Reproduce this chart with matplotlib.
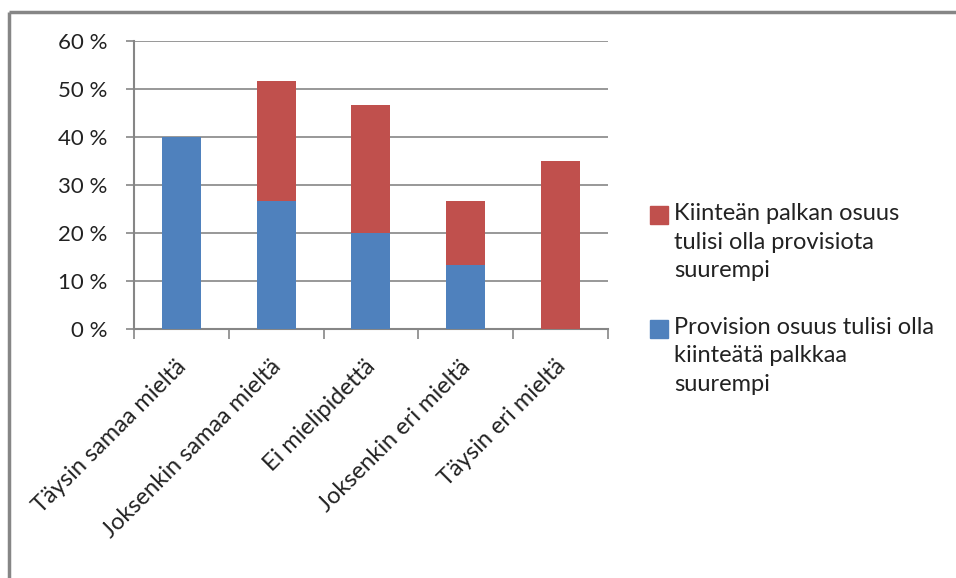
import numpy as np
import matplotlib
matplotlib.use("Agg")
import matplotlib.pyplot as plt
import matplotlib.transforms as mtransforms
from matplotlib.patches import Rectangle
from matplotlib.lines import Line2D

categories = ["Täysin samaa mieltä", "Joksenkin samaa mieltä", "Ei mielipidettä",
              "Joksenkin eri mieltä", "Täysin eri mieltä"]
provisio = [40.0, 26.7, 20.0, 13.3, 0.0]
kiintea = [0.0, 25.0, 26.7, 13.4, 35.0]
label_kiintea = "Kiinteän palkan osuus\ntulisi olla provisiota\nsuurempi"
label_provisio = "Provision osuus tulisi olla\nkiinteätä palkkaa\nsuurempi"

plt.rcParams['font.family'] = ['Lato', 'DejaVu Sans']
grey = "#868686"
blue = "#4f81bd"
red = "#c0504d"

fig = plt.figure(figsize=(9.56, 5.78), dpi=100)
ax = fig.add_axes([0.140, 0.431, 0.496, 0.498])

x = np.arange(len(categories))
b1 = ax.bar(x, provisio, width=0.41, color=blue, zorder=3)
b2 = ax.bar(x, kiintea, width=0.41, bottom=provisio, color=red, zorder=3)

ax.set_xlim(-0.5, len(categories) - 0.5)
ax.set_ylim(0, 60)
ax.set_yticks(range(0, 61, 10))
ax.set_yticklabels([f"{v} %" for v in range(0, 61, 10)], fontsize=16, color="#222222")
ax.yaxis.grid(True, color=grey, linewidth=1.2, zorder=0)

ax.set_xticks(x)
ax.set_xticklabels(categories, rotation=45, ha='right', rotation_mode='anchor',
                   fontsize=17, color="#222222")
ax.tick_params(axis='x', length=0, pad=8)
shift = mtransforms.ScaledTranslation(-6 / 100, -16 / 100, fig.dpi_scale_trans)
for lbl in ax.get_xticklabels():
    lbl.set_transform(lbl.get_transform() + shift)
ax.set_xticks(np.arange(-0.5, len(categories), 1), minor=True)
ax.tick_params(axis='x', which='minor', length=7, color=grey, width=1.2)
ax.tick_params(axis='y', length=6, color=grey, width=1.2, pad=13)

for s in ['top', 'right']:
    ax.spines[s].set_visible(False)
for s in ['left', 'bottom']:
    ax.spines[s].set_color(grey)
    ax.spines[s].set_linewidth(1.5)

# legend drawn Excel-style: marker next to the first line of each entry
leg_items = [(label_kiintea, red, 0.649), (label_provisio, blue, 0.452)]
for text, col, ytop in leg_items:
    fig.text(0.705, ytop, text, fontsize=17, va='top', ha='left',
             linespacing=1.45, color="#222222")
    fig.patches.append(Rectangle((0.680, ytop - 0.036), 0.0188, 0.031,
                                 transform=fig.transFigure, color=col))

# outer chart frame (only top and left edges fall inside the picture)
fig.lines.append(Line2D([0.0095, 0.9995], [0.980, 0.980], transform=fig.transFigure,
                        color=grey, linewidth=2.5, solid_capstyle='butt'))
fig.lines.append(Line2D([0.0095, 0.0095], [0.0005, 0.980], transform=fig.transFigure,
                        color=grey, linewidth=2.5, solid_capstyle='butt'))

fig.savefig("out.png", dpi=100)
